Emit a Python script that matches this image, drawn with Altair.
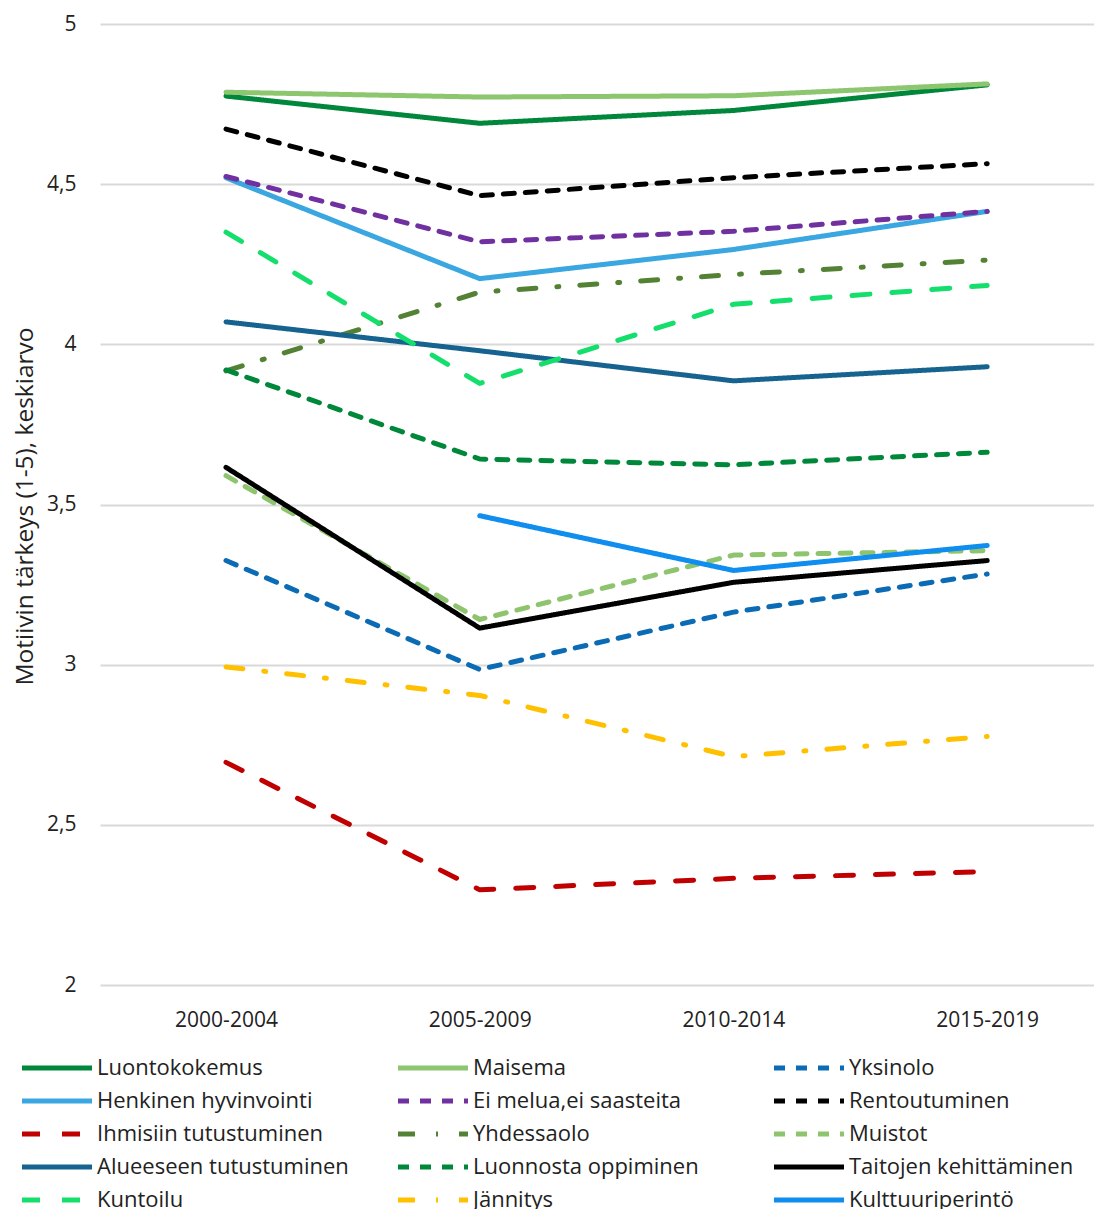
import altair as alt
import pandas as pd

periods = ["2000-2004", "2005-2009", "2010-2014", "2015-2019"]

series = [
    "Luontokokemus", "Maisema", "Yksinolo",
    "Henkinen hyvinvointi", "Ei melua,ei saasteita", "Rentoutuminen",
    "Ihmisiin tutustuminen", "Yhdessaolo", "Muistot",
    "Alueeseen tutustuminen", "Luonnosta oppiminen", "Taitojen kehittäminen",
    "Kuntoilu", "Jännitys", "Kulttuuriperintö",
]

luontokokemus = [4.775, 4.69, 4.73, 4.81]
maisema = [4.787, 4.772, 4.776, 4.813]
yksinolo = [3.325, 2.985, 3.164, 3.283]
henkinen = [4.52, 4.205, 4.296, 4.415]
ei_melua = [4.524, 4.32, 4.353, 4.415]
rentoutuminen = [4.672, 4.464, 4.52, 4.564]
ihmisiin = [2.695, 2.297, 2.333, 2.354]
yhdessaolo = [3.917, 4.163, 4.218, 4.263]
muistot = [3.59, 3.141, 3.342, 3.356]
alueeseen = [4.07, 3.98, 3.886, 3.93]
luonnosta = [3.92, 3.642, 3.624, 3.663]
taitojen = [3.616, 3.114, 3.257, 3.325]
kuntoilu = [4.35, 3.878, 4.125, 4.184]
jannitys = [2.993, 2.904, 2.713, 2.776]
kulttuuri = [None, 3.465, 3.294, 3.372]

values = [luontokokemus, maisema, yksinolo, henkinen, ei_melua, rentoutuminen,
          ihmisiin, yhdessaolo, muistot, alueeseen, luonnosta, taitojen,
          kuntoilu, jannitys, kulttuuri]

colors = ["#00873c", "#8cc66e", "#0b6cb5",
          "#3ba7e1", "#7030a0", "#000000",
          "#c00000", "#548235", "#8fc46e",
          "#17638f", "#00883a", "#000000",
          "#14df6c", "#ffc000", "#0f8ef0"]

SOLID = [1, 0]
SYS = [11, 11]
DASH = [18, 22]
DASHDOT = [17, 21, 2, 21]
dashes = [SOLID, SOLID, SYS,
          SOLID, SYS, SYS,
          DASH, DASHDOT, SYS,
          SOLID, SYS, SOLID,
          DASH, DASHDOT, SOLID]

rows = []
for s, vals in zip(series, values):
    for i, (p, v) in enumerate(zip(periods, vals)):
        if v is not None:
            rows.append({"series": s, "period": p, "pos": i, "value": v})
df = pd.DataFrame(rows)

FONT = "Open Sans"
TXT = "#222222"

legend = alt.Legend(
    title=None, orient="none", legendX=-54, legendY=1033,
    columns=3, direction="horizontal", gridAlign="all",
    symbolType="M-7,0L7,0", symbolSize=100, symbolStrokeWidth=5,
    labelFontSize=22, labelFont=FONT, labelColor=TXT, labelOffset=29,
    columnPadding=39, rowPadding=11, padding=0, labelLimit=400,
)

period_labels = "[" + ", ".join("'" + p + "'" for p in periods) + "]"

chart = alt.Chart(df).mark_line(
    strokeWidth=5, strokeCap="round", strokeJoin="round"
).encode(
    x=alt.X("pos:Q",
            scale=alt.Scale(domain=[-0.4966, 3.421], nice=False, zero=False),
            axis=alt.Axis(title=None, domain=False, ticks=False, tickSize=0,
                          values=list(range(len(periods))),
                          labelExpr=period_labels + "[datum.value]",
                          labelAngle=0, labelFontSize=21, labelFont=FONT,
                          labelColor=TXT, labelPadding=35,
                          labelBaseline="middle", labelFlush=False, grid=False)),
    y=alt.Y("value:Q",
            scale=alt.Scale(domain=[2, 5], nice=False, zero=False),
            axis=alt.Axis(title="Motiivin tärkeys (1-5), keskiarvo",
                          values=[2, 2.5, 3, 3.5, 4, 4.5, 5],
                          labelExpr="replace(toString(datum.value), '.', ',')",
                          domain=False, ticks=False, tickSize=0,
                          labelFontSize=21, labelFont=FONT, labelColor=TXT,
                          labelPadding=24, labelBaseline="middle", labelFlush=False,
                          gridColor="#d9d9d9", gridWidth=2,
                          titleFontSize=24.5, titleFont=FONT, titleFontWeight="normal",
                          titleColor=TXT, titleAngle=270, titleX=-75, titleY=482,
                          titleAlign="center", titleBaseline="middle")),
    color=alt.Color("series:N", scale=alt.Scale(domain=series, range=colors), legend=legend),
    strokeDash=alt.StrokeDash("series:N", scale=alt.Scale(domain=series, range=dashes), legend=legend),
    order=alt.Order("pos:Q"),
).properties(
    width=994, height=961,
    autosize=alt.AutoSizeParams(type="none"),
    padding={"left": 92, "top": 16, "right": 0, "bottom": 234},
).configure_view(stroke=None)

chart.save("out.html", embed_options={"renderer": "svg", "actions": False})
